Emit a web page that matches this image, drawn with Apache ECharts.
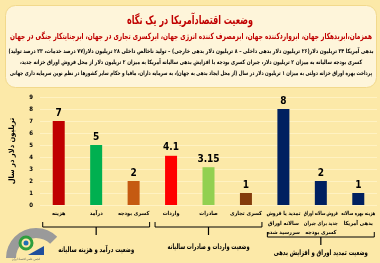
<!DOCTYPE html>
<html>
<head>
<meta charset="utf-8">
<script src="https://cdn.jsdelivr.net/npm/echarts@6/dist/echarts.min.js"></script>
<style>
  html, body { margin: 0; padding: 0; background: #FCE9A8; }
  #chart { width: 380px; height: 263px; }
</style>
</head>
<body>
<div id="chart" dir="rtl"></div>
<script>
// داده‌ها
var categories = [
  'هزینه', 'درآمد', 'کسری بودجه',
  'واردات', 'صادرات', 'کسری تجاری',
  'تمدید یا فروش\nسالانه اوراق\nسررسید شده',
  'فروش سالانه اوراق\nجدید برای جبران\nکسری بودجه',
  'هزینه بهره سالانه\nبدهی آمریکا'
];
var values = [7, 5, 2, 4.1, 3.15, 1, 8, 2, 1];
var barColors = ['#C00000', '#00B050', '#C55A11', '#FF0000', '#92D050', '#843C0C', '#002060', '#002060', '#002060'];
var yTicks = [0, 1, 2, 3, 4, 5, 6, 7, 8, 9];
var groupNames = ['وضعیت درآمد و هزینه سالیانه', 'وضعیت واردات و صادرات سالیانه', 'وضعیت تمدید اوراق و افزایش بدهی'];
var groupRanges = [[0, 2], [3, 5], [6, 8]];

var title = 'وضعیت اقتصادآمریکا در یک نگاه';
var subTitle = 'همزمان،ابربدهکار جهان، ابرواردکننده جهان، ابرمصرف کننده انرژی جهان، ابرکسری تجاری در جهان، ابرجنایتکار جنگی در جهان';
var notes = [
  'بدهی آمریکا ۳۴ تریلیون دلار(۲۶ تریلیون دلار بدهی داخلی – ۸ تریلیون دلار بدهی خارجی) – تولید ناخالص داخلی ۲۸ تریلیون دلار(۷۷ درصد خدمات، ۲۳ درصد تولید)',
  'کسری بودجه سالیانه به میزان ۲ تریلیون دلار، جبران کسری بودجه با افزایش بدهی سالیانه آمریکا به میزان ۲ تریلیون دلار از محل فروش اوراق خزانه جدید،',
  'پرداخت بهره اوراق خزانه دولتی به میزان ۱ تریلیون دلار در سال (از محل ایجاد بدهی به جهان)، به سرمایه داران، مافیا و حکام سایر کشورها در نظم نوین سرمایه داری جهانی'
];

var font = "'DejaVu Sans Condensed', 'DejaVu Sans', sans-serif";
var chart = echarts.init(document.getElementById('chart'));

// متن را افقی فشرده می‌کند تا در عرض داده شده جا شود
var measureCtx = document.createElement('canvas').getContext('2d');
measureCtx.direction = 'rtl';
function fitText(text, x, y, fnt, color, width) {
  measureCtx.font = fnt;
  var w = measureCtx.measureText(text).width;
  return {
    type: 'text', x: x, y: y, scaleX: Math.min(1, width / w),
    style: { text: text, fill: color, font: fnt, align: 'center', verticalAlign: 'middle' }
  };
}

var headerGraphics = [
  {
    type: 'rect', left: 5, top: 5,
    shape: { width: 371, height: 82, r: 10 },
    style: { fill: '#FEF5DA', stroke: '#F2D98C', lineWidth: 1 }
  },
  fitText(title, 190, 21, 'bold 12px ' + font, '#C00000', 126),
  fitText(subTitle, 191, 37, 'bold 8.5px ' + font, '#C00000', 362)
];
var noteWidths = [365, 342, 362];
notes.forEach(function (t, i) {
  headerGraphics.push(fitText(t, 191, 51 + i * 11, 'bold 6px ' + font, '#000', noteWidths[i]));
});

// لوگو (تقریبی)
var logoGraphics = [
  { type: 'sector', shape: { cx: 36, cy: 258, r: 30, r0: 20, startAngle: Math.PI, endAngle: Math.PI * 1.75 },
    style: { fill: '#9A9A9A' } },
  { type: 'circle', shape: { cx: 26, cy: 243, r: 6 }, style: { fill: '#FCE9A8', stroke: '#2E9E3E', lineWidth: 3 } },
  { type: 'circle', shape: { cx: 26, cy: 243, r: 2.5 }, style: { fill: '#1F6FB5' } },
  { type: 'polygon', shape: { points: [[28, 255], [44, 246], [44, 255]] }, style: { fill: '#1F4E9C' } },
  fitText('انجمن علمی اقتصاد ایران', 26, 259.5, '3px ' + font, '#555', 40)
];

var option = {
  backgroundColor: '#FCE9A8',
  grid: { left: 37, right: 3, top: 97, bottom: 58 },
  xAxis: {
    type: 'category',
    data: categories,
    axisLine: { show: false },
    axisTick: { show: false },
    axisLabel: { show: false }
  },
  yAxis: {
    type: 'value',
    min: yTicks[0],
    max: yTicks[yTicks.length - 1],
    interval: 1,
    name: 'تریلیون دلار در سال',
    nameLocation: 'middle',
    nameRotate: 90,
    nameGap: 24,
    nameTextStyle: { fontSize: 7.5, fontWeight: 'bold', fontFamily: font, color: '#000' },
    axisLine: { show: false },
    axisTick: { show: false },
    axisLabel: { fontSize: 6, fontWeight: 'bold', fontFamily: font, color: '#000', margin: 7 },
    splitLine: { lineStyle: { color: '#FFF2C2', width: 1 } }
  },
  series: [{
    type: 'bar',
    barWidth: 12,
    data: values.map(function (v, i) {
      return { value: v, itemStyle: { color: barColors[i] } };
    }),
    label: {
      show: true,
      position: 'top',
      distance: 3,
      fontSize: 10,
      fontWeight: 'bold',
      fontFamily: font,
      color: '#000'
    }
  }],
  graphic: headerGraphics.concat(logoGraphics)
};
chart.setOption(option);

// برچسب دسته‌ها و براکت‌های گروه‌ها از روی محور
var axisY = chart.convertToPixel({ yAxisIndex: 0 }, 0);
var extra = [];
categories.forEach(function (c, i) {
  var cx = chart.convertToPixel({ xAxisIndex: 0 }, i);
  c.split('\n').forEach(function (line, li) {
    extra.push(fitText(line, cx, axisY + 9 + li * 9.5, 'bold 5.5px ' + font, '#000', 34));
  });
});

var bracketY = [227, 227, 237];
var labelY = [250, 247, 253];
var labelW = [76, 82, 94];
groupRanges.forEach(function (r, gi) {
  var x0 = chart.convertToPixel({ xAxisIndex: 0 }, r[0]) - 16;
  var x1 = chart.convertToPixel({ xAxisIndex: 0 }, r[1]) + 16;
  var y = bracketY[gi];
  var cx = (x0 + x1) / 2;
  extra.push({
    type: 'polyline',
    shape: { points: [[x0, y - 5], [x0, y], [x1, y], [x1, y - 5]] },
    style: { stroke: '#000', lineWidth: 1, fill: null }
  });
  extra.push({
    type: 'line',
    shape: { x1: cx, y1: y, x2: cx, y2: y + 8 },
    style: { stroke: '#000', lineWidth: 1.2 }
  });
  extra.push(fitText(groupNames[gi], cx, labelY[gi], 'bold 7.5px ' + font, '#000', labelW[gi]));
});
chart.setOption({ graphic: headerGraphics.concat(logoGraphics).concat(extra) });
window.onresize = chart.resize;
</script>
</body>
</html>
